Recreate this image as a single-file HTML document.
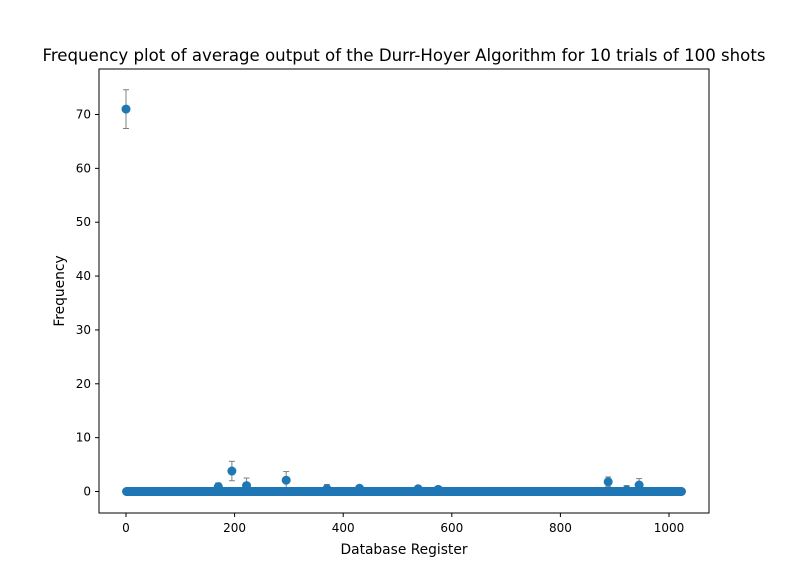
<!DOCTYPE html>
<html><head><meta charset="utf-8"><style>
body{margin:0;background:#fff;font-family:"Liberation Sans","DejaVu Sans",sans-serif}
svg text{font-family:"DejaVu Sans","Liberation Sans",sans-serif;fill:#000}
</style></head><body>
<svg id="chart" width="788" height="577" xmlns="http://www.w3.org/2000/svg">
<text x="404" y="61" font-size="16.6" text-anchor="middle">Frequency plot of average output of the Durr-Hoyer Algorithm for 10 trials of 100 shots</text>
<g id="marks"></g>
<rect x="99" y="69" width="610" height="444" fill="none" stroke="#000" stroke-width="1"/>
<g id="axes"></g>
<text x="404" y="554" font-size="13.8" text-anchor="middle">Database Register</text>
<text transform="translate(64,291) rotate(-90)" font-size="13.8" text-anchor="middle">Frequency</text>
</svg>
<script>
const registerCount = 1024;
const peakRegisters = [0, 170, 195, 222, 295, 370, 430, 538, 575, 888, 922, 945];
const peakValues = [71, 0.9, 3.8, 1.1, 2.1, 0.5, 0.6, 0.5, 0.4, 1.8, 0.3, 1.2];
const peakErrors = [3.6, 0.7, 1.8, 1.4, 1.6, 0.8, 0.5, 0.5, 0.3, 0.9, 0.8, 1.2];
const xTicks = [0, 200, 400, 600, 800, 1000];
const yTicks = [0, 10, 20, 30, 40, 50, 60, 70];
const xs = v => 126 + v * (669 - 126) / 1000;
const ys = v => 491.5 - v * (491.5 - 114.5) / 70;
const NS = "http://www.w3.org/2000/svg";
const marks = document.getElementById('marks');
const axes = document.getElementById('axes');
function mk(tag, attrs, parent){const e=document.createElementNS(NS,tag);for(const k in attrs)e.setAttribute(k,attrs[k]);parent.appendChild(e);return e;}
const vals = new Array(registerCount).fill(0), errs = new Array(registerCount).fill(0);
peakRegisters.forEach((r,i)=>{vals[r]=peakValues[i];errs[r]=peakErrors[i];});
for(let i=0;i<registerCount;i++){
  if(errs[i]>0){
    const g=mk('g',{stroke:'#808080','stroke-width':1},marks);
    
    
    const x=xs(i),y1=ys(vals[i]-errs[i]),y2=ys(vals[i]+errs[i]);
    mk('line',{x1:x,x2:x,y1:y1,y2:y2},g);
    mk('line',{x1:x-3,x2:x+3,y1:y1,y2:y1},g);
    mk('line',{x1:x-3,x2:x+3,y1:y2,y2:y2},g);
  }
}
for(let i=0;i<registerCount;i++){
  const c=mk('circle',{cx:xs(i),cy:ys(vals[i]),r:4.5,fill:'#1f77b4'},marks);
  
  
}
xTicks.forEach(t=>{
  const x=xs(t);
  const l=mk('line',{x1:x,x2:x,y1:513,y2:517,stroke:'#000'},axes);
  
  
  const tx=mk('text',{x:x,y:532,'font-size':12,'text-anchor':'middle'},axes);
  tx.textContent=t;
  
  
});
yTicks.forEach(t=>{
  const y=ys(t);
  const l=mk('line',{x1:95,x2:99,y1:y,y2:y,stroke:'#000'},axes);
  
  
  const tx=mk('text',{x:91,y:y+4,'font-size':12,'text-anchor':'end'},axes);
  tx.textContent=t;
  
  
});
</script>
</body></html>
